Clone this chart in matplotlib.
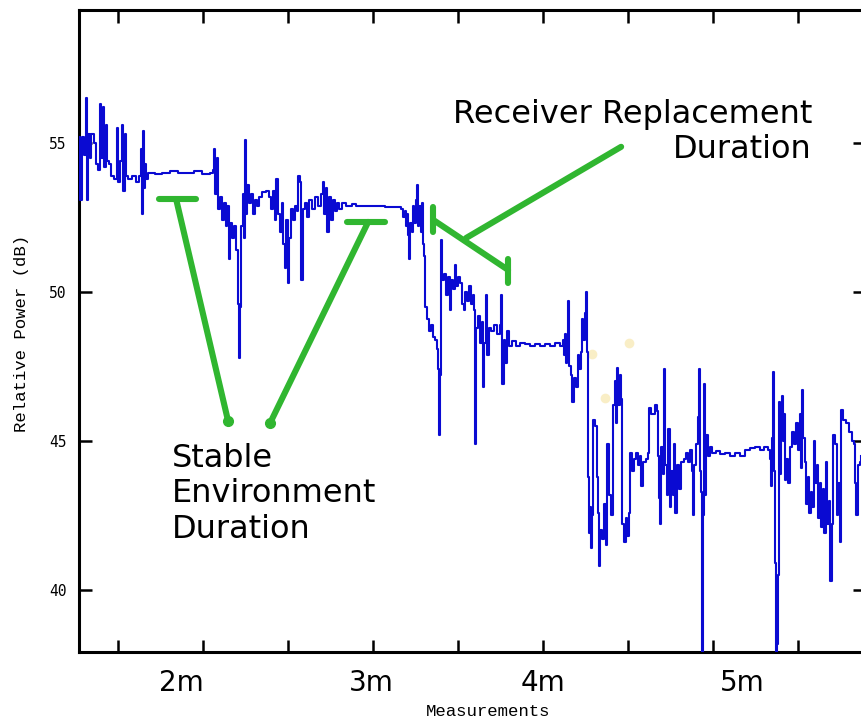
import numpy as np
import matplotlib
matplotlib.use("Agg")
import matplotlib.pyplot as plt
import matplotlib.transforms as mtransforms

seg_start = [(0, 55.2), (1, 53.1), (3, 55.2), (5, 54.6), (7, 56.5), (8, 53.1), (9, 55.3), (11, 54.5),
             (12, 55.3), (15, 55.0), (17, 54.3), (19, 54.1), (21, 56.3), (22, 54.5), (24, 56.2), (25, 54.2),
             (27, 55.6), (28, 54.4), (30, 54.3), (32, 53.9), (35, 53.8), (38, 55.5), (39, 53.7), (41, 54.4),
             (43, 55.6), (44, 53.4), (46, 55.3), (47, 53.9), (49, 53.8), (53, 53.9), (57, 53.7), (60, 53.9),
             (62, 54.8), (63, 52.6), (64, 55.4), (65, 53.5), (66, 54.3), (67, 53.8)]
seg_plateau1 = [(69, 54.0), (76, 53.95), (83, 54.0), (91, 54.05), (99, 54.0), (107, 54.0), (115, 54.05),
                (123, 53.95), (131, 54.0), (134, 54.1)]
seg_burst1 = [(135, 54.8), (136, 53.3), (138, 54.5), (139, 52.8), (141, 53.2), (143, 52.4), (145, 53.0),
              (147, 52.2), (148, 52.9), (150, 51.1), (151, 52.3), (153, 51.8), (155, 52.2), (157, 51.4),
              (159, 49.6), (160, 47.8), (161, 49.5), (162, 52.2), (164, 53.3), (165, 51.8), (166, 55.1),
              (167, 52.6), (168, 53.6)]
seg_burst2 = [(170, 53.0), (172, 53.3), (174, 52.6), (176, 53.1), (178, 52.9), (180, 53.2), (183, 53.35),
              (187, 53.4), (190, 53.2), (192, 52.8), (194, 53.4), (196, 52.4), (197, 53.8), (199, 52.6),
              (201, 52.0), (203, 53.0), (204, 51.6), (206, 50.8), (207, 52.4), (209, 50.3), (210, 51.8),
              (212, 52.8), (214, 52.4), (216, 52.9), (218, 52.7), (219, 53.9), (221, 53.7), (222, 50.4),
              (224, 52.8), (226, 53.0), (228, 52.5), (230, 53.1), (233, 52.8), (236, 53.2), (239, 52.9),
              (242, 53.3), (244, 53.7), (245, 52.6), (247, 53.5), (248, 52.0), (250, 53.2), (252, 52.4),
              (254, 53.1), (256, 52.7), (258, 53.0), (260, 52.8)]
seg_plateau2 = [(263, 53.0), (267, 52.9), (273, 52.95), (277, 52.9), (291, 52.9), (306, 52.85),
                (316, 52.85), (322, 52.8)]
seg_drop = [(324, 52.5), (326, 52.7), (327, 52.2), (328, 52.6), (329, 51.9), (330, 51.1), (331, 52.3),
            (333, 52.0), (334, 52.9), (335, 52.3), (337, 53.1), (338, 53.6), (339, 52.2), (340, 52.9),
            (342, 52.0), (343, 53.0), (344, 51.6), (345, 51.2), (346, 49.5)]
seg_mid = [(348, 49.1), (350, 48.7), (352, 48.9), (354, 48.5), (356, 48.4), (358, 48.1), (359, 47.4),
           (360, 45.2), (361, 47.2), (362, 51.75), (363, 50.4), (365, 50.6), (367, 49.9), (369, 50.5),
           (371, 49.4), (372, 50.4), (374, 50.1), (376, 50.9), (377, 50.2), (379, 50.5), (381, 50.3),
           (383, 49.6), (385, 49.4), (386, 50.0), (388, 49.7), (390, 50.2), (392, 49.6), (394, 49.9),
           (395, 49.4), (396, 44.9), (397, 48.8), (399, 49.2), (401, 48.3), (403, 49.0), (404, 46.8),
           (405, 48.3), (407, 49.9), (408, 47.9), (410, 48.8), (412, 48.7), (415, 48.9), (418, 48.6),
           (421, 48.9), (422, 49.9), (423, 46.9), (425, 48.4), (426, 47.6), (428, 48.7), (430, 48.2)]
seg_plateau3 = [(433, 48.35), (437, 48.2), (441, 48.3), (446, 48.25), (451, 48.2), (456, 48.25),
                (461, 48.2), (466, 48.25), (471, 48.2), (476, 48.3), (481, 48.2)]
seg_fall = [(484, 48.4), (485, 47.9), (486, 48.6), (487, 47.6), (488, 48.0), (489, 49.7), (490, 47.5),
            (492, 47.2), (493, 46.3), (495, 47.1), (497, 46.8), (499, 47.9), (500, 47.4), (502, 48.0),
            (503, 49.1), (504, 48.4), (506, 49.3), (507, 50.0), (508, 48.0), (509, 43.8), (510, 41.9),
            (511, 42.8), (512, 41.4)]
seg_low = [(513, 42.5), (514, 45.7), (516, 45.5), (518, 43.8), (519, 42.6), (520, 40.8), (521, 42.0),
           (523, 41.7), (525, 42.9), (527, 41.5), (528, 44.9), (530, 43.2), (532, 42.5), (534, 46.2),
           (536, 47.0), (537, 45.6), (538, 47.45), (539, 46.2), (541, 47.2), (542, 46.4), (543, 42.2),
           (545, 41.6), (547, 42.4), (548, 41.8), (550, 42.6), (551, 44.6), (553, 44.0), (555, 44.4),
           (557, 44.6), (559, 44.2), (561, 44.5), (562, 43.5), (564, 44.3), (567, 44.4), (569, 44.6),
           (570, 46.1), (572, 45.9), (576, 46.2), (578, 46.0), (579, 44.5), (580, 43.1), (581, 42.2),
           (582, 44.8), (584, 43.9), (585, 47.4), (586, 44.2), (588, 43.2), (589, 45.4), (591, 42.8),
           (592, 44.0), (594, 43.2), (595, 44.9), (596, 42.6), (598, 44.2), (600, 43.4), (602, 44.3),
           (605, 44.4), (607, 44.6), (609, 44.3), (611, 44.7), (613, 44.0), (614, 42.5), (615, 44.2),
           (617, 44.9), (619, 45.8), (620, 47.4), (621, 44.0), (622, 43.3), (623, 37.3), (624, 42.5),
           (625, 46.9), (626, 43.2), (627, 45.2), (629, 44.5), (631, 44.8), (633, 44.6)]
seg_plateau4 = [(637, 44.65), (641, 44.55), (646, 44.6), (651, 44.5), (656, 44.6), (661, 44.5),
                (666, 44.7), (671, 44.75), (676, 44.8), (681, 44.7), (685, 44.8), (689, 44.7)]
seg_end = [(691, 44.4), (692, 43.5), (693, 45.1), (694, 47.3), (695, 44.0), (696, 40.9), (697, 37.5),
           (698, 38.2), (699, 40.5), (700, 46.3), (701, 43.9), (702, 45.6), (703, 46.5), (704, 45.0),
           (705, 45.9), (706, 43.7), (707, 44.4), (709, 43.6), (711, 44.8), (713, 45.3), (715, 44.9),
           (717, 45.6), (719, 44.7), (721, 45.9), (722, 44.1), (723, 46.7), (724, 45.1), (726, 44.3),
           (727, 42.9), (729, 43.8), (730, 42.6), (732, 43.3), (733, 42.8), (735, 45.0), (736, 43.6),
           (738, 44.2), (739, 42.4), (741, 43.6), (742, 42.1), (744, 43.4), (745, 41.9), (747, 44.3),
           (748, 42.2), (750, 43.0), (751, 40.3), (753, 42.2), (754, 45.2), (756, 44.9), (758, 42.5),
           (759, 43.6), (761, 41.6), (762, 46.05), (764, 45.7), (767, 45.6), (770, 45.3), (773, 45.0),
           (775, 44.9), (776, 43.6), (777, 42.5), (779, 44.2), (781, 44.3), (782, 44.5)]

segments = [seg_start, seg_plateau1, seg_burst1, seg_burst2, seg_plateau2, seg_drop, seg_mid,
            seg_plateau3, seg_fall, seg_low, seg_plateau4, seg_end]

t_start = 1.27          # minutes at first sample
samples_per_min = 170.0

x_tick_labels = ["2m", "3m", "4m", "5m"]
x_tick_label_pos = [1.87, 2.99, 4.0, 5.17]   # where the labels sit (not on the ticks)
y_ticks = [40, 45, 50, 55]

# faint yellow specks in the picture
speck_t = [4.288, 4.506, 4.365]
speck_db = [47.92, 48.29, 46.44]

trace = np.array([p for seg in segments for p in seg])
t = t_start + trace[:, 0] / samples_per_min
db = trace[:, 1]

GREEN = "#30b630"
BLUE = "#0a0ad2"

fig = plt.figure(figsize=(8.61, 7.22), dpi=100)
ax = fig.add_axes([79 / 861, 1 - 652 / 722, 786 / 861, 642 / 722])

ax.plot(t, db, color=BLUE, linewidth=1.5, drawstyle="steps-post", zorder=3)
ax.plot(speck_t, speck_db, "o", color="#f6e3a0", markersize=7, alpha=0.6, markeredgewidth=0, zorder=1)

ax.set_xlim(t_start, t_start + 786 / samples_per_min)
ax.set_ylim(37.92, 59.46)

ax.set_xticks(np.arange(1.5, 5.6, 0.5))
ax.set_xticklabels([])
ax.set_yticks(y_ticks)
ax.set_yticklabels([str(v) for v in y_ticks], family="DejaVu Sans Mono", fontsize=10.5)
ax.tick_params(direction="in", length=9, width=1.8, top=True, right=True, pad=9)
for s in ax.spines.values():
	s.set_linewidth(2.2)

trans = mtransforms.blended_transform_factory(ax.transData, ax.transAxes)
for lab, pos in zip(x_tick_labels, x_tick_label_pos):
	ax.text(pos, -0.048, lab, transform=trans, ha="center", va="center", fontsize=20, family="DejaVu Sans")

fig.text(488 / 861, 1 - 712 / 722, "Measurements", ha="center", va="center",
	family="Liberation Mono", fontsize=12.5)
fig.text(22 / 861, 1 - 333 / 722, "Relative Power (dB)", ha="center", va="center", rotation=90,
	family="Liberation Mono", fontsize=12.5)

# green annotation strokes
lw = 4.4
kw = dict(color=GREEN, linewidth=lw, solid_capstyle="round", zorder=4)
ax.plot([1.741, 1.959], [53.12, 53.12], **kw)
ax.plot([1.841, 2.147], [53.12, 45.67], **kw)
ax.plot([2.847, 3.071], [52.35, 52.35], **kw)
ax.plot([2.971, 2.394], [52.35, 45.6], **kw)
ax.plot([2.147, 2.394], [45.67, 45.6], "o", color=GREEN, markersize=7, zorder=4)
ax.plot([4.459, 3.547], [54.87, 51.81], **kw)
ax.plot([3.353, 3.794], [52.42, 50.74], **kw)
ax.plot([3.353, 3.353], [52.85, 52.0], **kw)
ax.plot([3.794, 3.794], [51.1, 50.3], **kw)

fig.text(172 / 861, 1 - 494 / 722, "Stable\nEnvironment\nDuration", ha="left", va="center",
	fontsize=23, linespacing=1.2, family="DejaVu Sans")
fig.text(812 / 861, 1 - 132 / 722, "Receiver Replacement\nDuration", ha="right", va="center",
	multialignment="right", fontsize=23, linespacing=1.2, family="DejaVu Sans")

fig.savefig("out.png", dpi=100)
